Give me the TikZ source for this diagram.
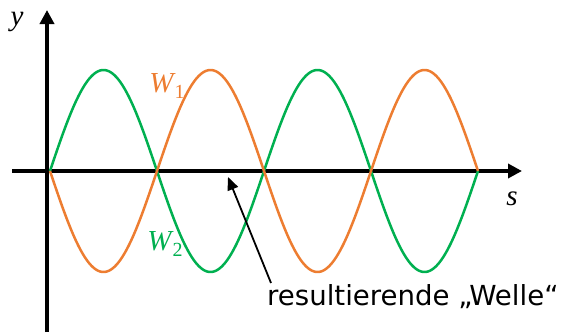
\documentclass[tikz,border=0pt]{standalone}
\usepackage{fontspec}
\setmainfont{Liberation Serif}
\newfontfamily\labelfont{DejaVu Sans}
\usetikzlibrary{arrows.meta}
\definecolor{wgreen}{RGB}{0,176,80}
\definecolor{worange}{RGB}{237,125,49}
\tikzset{
  axis/.style={line width=3.5pt,-{Triangle[length=14pt,width=14pt]}},
  wave/.style={line width=2.5pt,line join=round},
  lbl/.style={inner sep=0pt,font=\fontsize{29}{32}\selectfont},
}
\begin{document}
\begin{tikzpicture}[x=1pt,y=-1pt]
\useasboundingbox (0,0) rectangle (575,332);
\coordinate (yb) at (47,332);
\coordinate (yt) at (47,10);
\coordinate (xl) at (12,171);
\coordinate (xr) at (522,171);
\draw[axis] (yb) -- (yt);
\draw[axis] (xl) -- (xr);
\draw[wave,wgreen] plot[domain=50:478,samples=240,smooth] (\x,{171-101*sin(1.682243*(\x-50))});
\draw[wave,worange] plot[domain=50:478,samples=240,smooth] (\x,{171+101*sin(1.682243*(\x-50))});
\node[lbl] (ylab) at (17,22) {\itshape y};
\node[lbl] (slab) at (512,199) {\itshape s};
\node[lbl,text=worange] (w1) at (167,86) {\itshape W\kern1pt\raisebox{-6pt}{\upshape\fontsize{20}{22}\selectfont 1}};
\node[lbl,text=wgreen] (w2) at (165,244) {\itshape W\kern1pt\raisebox{-6pt}{\upshape\fontsize{20}{22}\selectfont 2}};
\node[inner sep=0pt,anchor=west,font=\labelfont\fontsize{27.6}{30}\selectfont] (res) at (267,297) {resultierende „Welle“};
\coordinate (tip) at (228,177);
\draw[line width=1.8pt,-{Triangle[length=13pt,width=11pt]}] (271,283) -- (tip);
\end{tikzpicture}
\end{document}
